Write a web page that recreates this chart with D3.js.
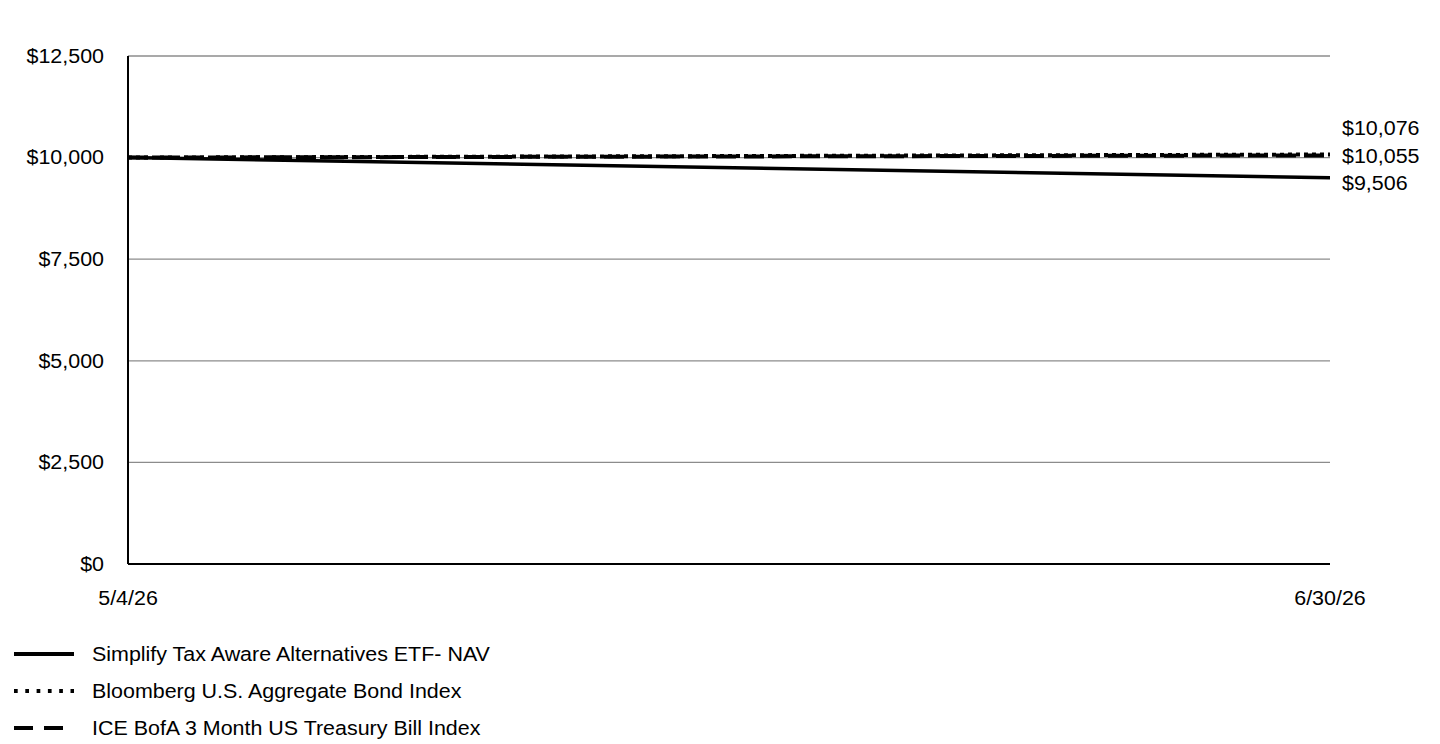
<!DOCTYPE html>
<html>
<head>
<meta charset="utf-8">
<script src="https://cdn.jsdelivr.net/npm/d3@7"></script>
<style>
  body { margin: 0; background: #fff; }
  text { font-family: "Liberation Sans", Arial, sans-serif; fill: #000; font-size: 19.5px; }
</style>
</head>
<body>
<svg id="chart"></svg>
<script>
// values
var dates = ['5/4/26', '6/30/26'];
var navValues = [10000, 9506];
var bondValues = [10000, 10076];
var tbillValues = [10000, 10055];
var yTicks = [0, 2500, 5000, 7500, 10000, 12500];
var seriesNames = [
    'Simplify Tax Aware Alternatives ETF- NAV',
    'Bloomberg U.S. Aggregate Bond Index',
    'ICE BofA 3 Month US Treasury Bill Index'
];
var endLabels = ['$9,506', '$10,076', '$10,055'];

var W = 1440, H = 744;
var margin = { left: 128, right: 110, top: 56, bottom: 180 };
var stretch = 1.1; // reference text is a bit wider than Arial

var svg = d3.select('#chart')
    .attr('width', W)
    .attr('height', H);

var parse = d3.timeParse('%m/%d/%y');

var x = d3.scaleTime()
    .domain([parse(dates[0]), parse(dates[dates.length - 1])])
    .range([margin.left, W - margin.right]);

var y = d3.scaleLinear()
    .domain([0, 12500])
    .range([H - margin.bottom, margin.top]);

function place(px, py) {
    return 'translate(' + px + ',' + py + ') scale(' + stretch + ',1)';
}

// gridlines
svg.append('g')
    .selectAll('line')
    .data(yTicks)
    .enter().append('line')
    .attr('x1', margin.left)
    .attr('x2', W - margin.right)
    .attr('y1', d => y(d))
    .attr('y2', d => y(d))
    .attr('stroke', '#8c8c8c')
    .attr('stroke-width', 1.3);

// y tick labels
svg.append('g')
    .selectAll('text')
    .data(yTicks)
    .enter().append('text')
    .attr('transform', d => place(margin.left - 24, y(d)))
    .attr('dy', '0.35em')
    .attr('text-anchor', 'end')
    .text(d => '$' + d3.format(',')(d));

// x tick labels
svg.append('g')
    .selectAll('text')
    .data(dates)
    .enter().append('text')
    .attr('transform', d => place(x(parse(d)), y(0) + 41))
    .attr('text-anchor', 'middle')
    .text(d => d);

var series = [
    { name: seriesNames[0], values: navValues, dash: null, width: 3.5 },
    { name: seriesNames[1], values: bondValues, dash: '4,4', width: 4 },
    { name: seriesNames[2], values: tbillValues, dash: '20,8', width: 4 }
];

var line = d3.line()
    .x((d, i) => x(parse(dates[i])))
    .y(d => y(d));

svg.append('g')
    .selectAll('path')
    .data(series)
    .enter().append('path')
    .attr('d', d => line(d.values))
    .attr('fill', 'none')
    .attr('stroke', '#000')
    .attr('stroke-width', d => d.width)
    .attr('stroke-dasharray', d => d.dash);

// axes
svg.append('line')
    .attr('x1', margin.left).attr('x2', margin.left)
    .attr('y1', y(12500)).attr('y2', y(0))
    .attr('stroke', '#000').attr('stroke-width', 2);
svg.append('line')
    .attr('x1', margin.left).attr('x2', W - margin.right)
    .attr('y1', y(0)).attr('y2', y(0))
    .attr('stroke', '#000').attr('stroke-width', 2);

// end labels, spread so they do not overlap
var labelY = [183, 128, 156];
svg.append('g')
    .selectAll('text')
    .data(endLabels)
    .enter().append('text')
    .attr('transform', (d, i) => place(W - margin.right + 12, labelY[i]))
    .attr('dy', '0.35em')
    .text(d => d);

// legend
var legend = svg.append('g')
    .selectAll('g')
    .data(series)
    .enter().append('g')
    .attr('transform', (d, i) => 'translate(14,' + (654 + i * 37) + ')');

legend.append('line')
    .attr('x1', 0).attr('x2', 60)
    .attr('stroke', '#000')
    .attr('stroke-width', 4)
    .attr('stroke-dasharray', (d, i) => i == 1 ? '3.7,7.6' : (i == 2 ? '19,11' : null));

legend.append('text')
    .attr('transform', place(78, 0))
    .attr('dy', '0.35em')
    .text(d => d.name);
</script>
</body>
</html>
